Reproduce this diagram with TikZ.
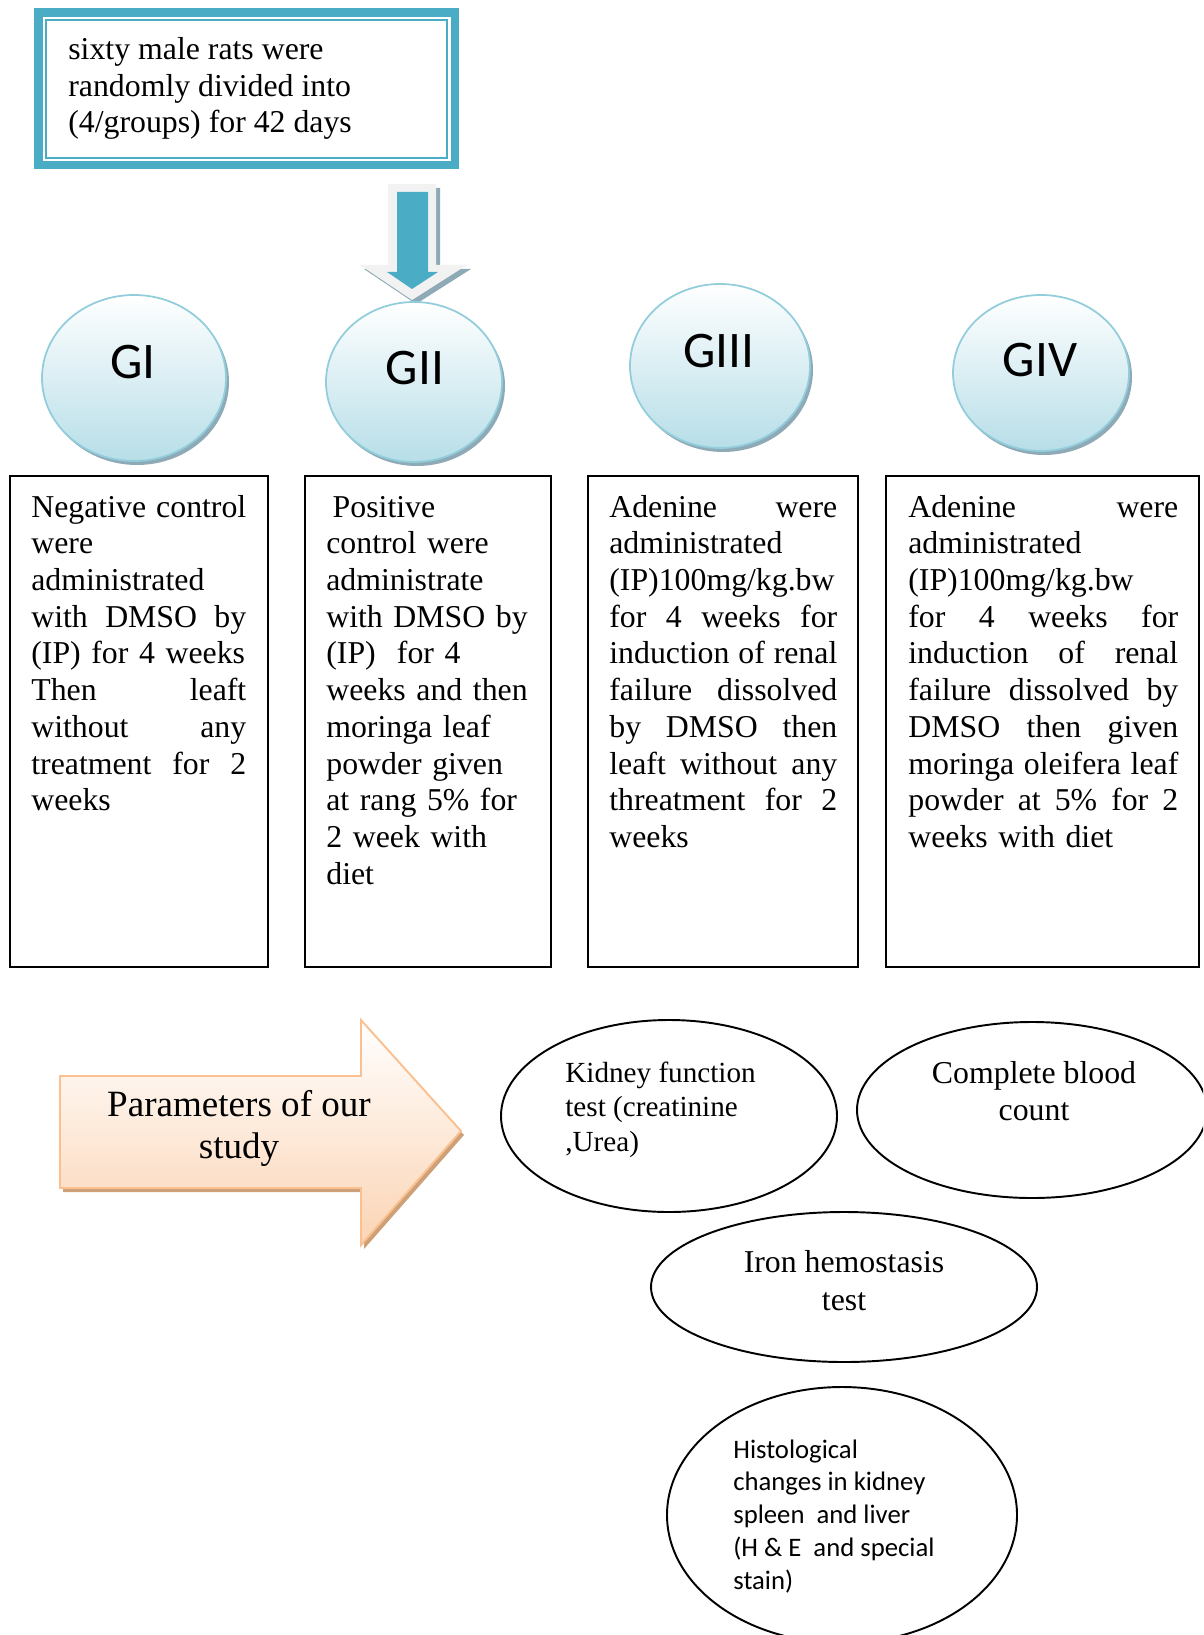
\documentclass[tikz,border=0pt]{standalone}
\usepackage{fontspec}
\setmainfont{Liberation Serif}
\newfontfamily\calfont{Carlito}
\usetikzlibrary{positioning}
\definecolor{BlueFrame}{RGB}{75,172,198}
\definecolor{BlueRim}{RGB}{146,205,220}
\definecolor{BlueFill}{RGB}{183,222,232}
\definecolor{GreyShadow}{RGB}{141,170,182}
\definecolor{GreyArrow}{RGB}{242,242,242}
\definecolor{PeachRim}{RGB}{250,192,144}
\definecolor{PeachFill}{RGB}{251,212,180}
\definecolor{PeachShadow}{RGB}{205,160,120}

\begin{document}
\begin{tikzpicture}[x=0.02cm,y=-0.02cm,
  txt/.style={inner sep=0pt,align=left,anchor=base west,
    font=\fontsize{18.1pt}{20.9pt}\selectfont},
  ctxt/.style={inner sep=0pt,align=center,anchor=base,
    font=\fontsize{18.1pt}{20.9pt}\selectfont},
  grpbox/.style={draw=black,line width=1.1pt},
  testell/.style={draw=black,line width=1.1pt},
  glabel/.style={inner sep=0pt,font=\calfont\fontsize{29.2pt}{35pt}\selectfont}]
  \useasboundingbox (0,0) rectangle (1203,1635);
  \clip (0,0) rectangle (1203,1635);

  % top box (anchored on its last line)
  \fill[BlueFrame] (34,8) rectangle (459,169);
  \fill[white] (43,17) rectangle (451,161);
  \draw[BlueFrame,line width=1.1pt] (46,20) rectangle (447,158);
  \node[txt] (start) at (68,133) {sixty male rats were\\randomly divided into\\(4/groups) for 42 days};

  % block arrow down to the groups
  \fill[GreyShadow] (392,188) -- (440,188) -- (440,269) -- (471,269) -- (416,304) -- (364,269) -- (392,269) -- cycle;
  \fill[GreyArrow] (388,184) -- (436,184) -- (436,265) -- (467,265) -- (412,300) -- (360,265) -- (388,265) -- cycle;
  \fill[BlueFrame] (397,192) -- (428,192) -- (428,272) -- (438,272) -- (412,289) -- (387,272) -- (397,272) -- cycle;

  % groups
  \foreach \cx/\cy/\rx/\ry in {134/378/92/83, 414/382/88/80, 720/366/90/82, 1041/373/88/78}{
    \fill[GreyShadow] (\cx+3,\cy+4) ellipse [x radius=\rx, y radius=\ry];
    \draw[BlueRim,line width=1pt,top color=white,bottom color=BlueFill] (\cx,\cy) ellipse [x radius=\rx, y radius=\ry];
  }
  \node[glabel] (gI) at (133,362) {GI};
  \node[glabel] (gII) at (415,368) {GII};
  \node[glabel] (gIII) at (719,351) {GIII};
  \node[glabel] (gIV) at (1040,360) {GIV};

  % treatment boxes
  \draw[grpbox] (10,476) rectangle (268,967);
  \draw[grpbox] (305,476) rectangle (551,967);
  \draw[grpbox] (588,476) rectangle (858,967);
  \draw[grpbox] (886,476) rectangle (1199,967);

  \node[txt,text width=4.30cm] (tI) at (31,517) {Negative\hfill control\\were\\administrated\\with\hfill DMSO\hfill by\\(IP) for 4 weeks\\Then\hfill leaft\\without\hfill any\\treatment\hfill for\hfill 2\\weeks};
  \node[txt,text width=4.30cm] (tII) at (326,517) {\hspace*{0.2em}Positive\\control were\\administrate\\with DMSO by\\(IP)\ \ for 4\\weeks and then\\moringa leaf\\powder given\\at rang 5\% for\\2 week with\\diet};
  \node[txt,text width=4.56cm] (tIII) at (609,517) {Adenine\hfill were\\administrated\\(IP)100mg/kg.bw\\for\hfill 4\hfill weeks\hfill for\\induction\hfill of\hfill renal\\failure\hfill dissolved\\by\hfill DMSO\hfill then\\leaft\hfill without\hfill any\\threatment\hfill for\hfill 2\\weeks};
  \node[txt,text width=5.40cm] (tIV) at (908,517) {Adenine\hfill were\\administrated\\(IP)100mg/kg.bw\\for\hfill 4\hfill weeks\hfill for\\induction\hfill of\hfill renal\\failure\hfill dissolved\hfill by\\DMSO\hfill then\hfill given\\moringa\hfill oleifera\hfill leaf\\powder\hfill at\hfill 5\%\hfill for\hfill 2\\weeks with diet};

  % parameters arrow
  \fill[PeachShadow] (63,1080) -- (364,1080) -- (364,1024) -- (464,1135) -- (364,1249) -- (364,1192) -- (63,1192) -- cycle;
  \draw[PeachRim,line width=1.1pt,top color=white,bottom color=PeachFill] (60,1076) -- (361,1076) -- (361,1020) -- (461,1131) -- (361,1245) -- (361,1188) -- (60,1188) -- cycle;
  \node[ctxt,font=\fontsize{21.1pt}{23.8pt}\selectfont] (param) at (239,1158) {Parameters of our\\study};

  % tests (text nodes anchored on their last line)
  \draw[testell] (669,1116) ellipse [x radius=168, y radius=96];
  \node[txt,font=\fontsize{16.6pt}{19.5pt}\selectfont] (kidney) at (565,1151) {Kidney function\\test (creatinine\\,Urea)};
  \draw[testell] (1032,1110) ellipse [x radius=175, y radius=88];
  \node[ctxt] (cbc) at (1034,1120) {Complete blood\\count};
  \draw[testell] (844,1287) ellipse [x radius=193, y radius=75];
  \node[ctxt,font=\fontsize{18.1pt}{21.2pt}\selectfont] (iron) at (844,1310) {Iron hemostasis\\test};
  \draw[testell] (842,1515) ellipse [x radius=175, y radius=128];
  \node[txt,font=\calfont\fontsize{15.2pt}{18.6pt}\selectfont] (histo) at (733,1589) {Histological\\changes in kidney\\spleen\ \ and liver\\(H \& E\ \ and special\\stain)};
\end{tikzpicture}
\end{document}
